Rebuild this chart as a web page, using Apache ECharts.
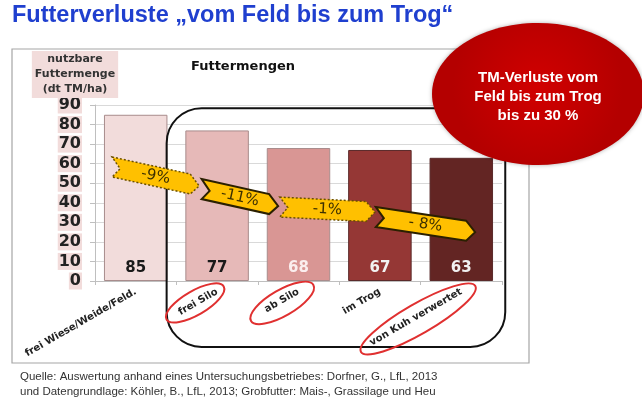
<!DOCTYPE html>
<html style="height: 100%">
<head>
    <meta charset="utf-8">
    <title>Futterverluste</title>
    <script type="text/javascript" src="https://cdn.jsdelivr.net/npm/echarts@6/dist/echarts.min.js"></script>
</head>
<body style="width: 100%;margin: 0;height: 100%;background: #fff">
<div id="container" style="width: 642px;height: 409px"></div>

<script type="application/javascript">

    // data
    var categories = ['frei Wiese/Weide/Feld.', 'frei Silo', 'ab Silo', 'im Trog', 'von Kuh verwertet'];
    var values = [85, 77, 68, 67, 63];
    var barColors = ['#f2dcdb', '#e6b9b8', '#d99694', '#953735', '#632523'];
    var labelColors = ['#1a1a1a', '#1a1a1a', '#fbeeee', '#f2f2f2', '#f2f2f2'];
    var yTicks = [0, 90, 10];
    var lossLabels = ['-9%', '-11%', '-1%', '- 8%'];

    // arrow layout: [category pos, value] of tail and tip
    var arrowLayout = [
        [[-0.29, 58.3], [0.78, 48.6]],
        [[0.81, 47.0], [1.75, 38.3]],
        [[1.77, 37.8], [2.94, 35.3]],
        [[2.95, 32.7], [4.17, 25.0]]
    ];
    var circled = [[0.73, -11.2, 33, 12], [1.80, -11.2, 36, 13], [3.47, -19.4, 66, 15]];

    var dom = document.getElementById("container");
    var myChart = echarts.init(dom);

    var barData = [];
    for (var i = 0; i < values.length; i++) {
        barData.push({
            value: values[i],
            itemStyle: {color: barColors[i], borderColor: i < 3 ? '#a88c8c' : '#5a2a2a', borderWidth: 1},
            label: {color: labelColors[i]}
        });
    }

    var font = '"DejaVu Sans", Verdana, sans-serif';

    option = {
        animation: false,
        grid: {left: 95, right: 140, top: 105, bottom: 128},
        xAxis: {
            type: 'category',
            data: categories,
            axisLine: {lineStyle: {color: '#bfbfbf'}},
            axisTick: {show: true, length: 4, lineStyle: {color: '#bfbfbf'}},
            axisLabel: {
                rotate: 30, margin: 10, interval: 0,
                fontFamily: font, fontWeight: 'bold', fontSize: 10, color: '#222'
            }
        },
        yAxis: {
            type: 'value',
            min: yTicks[0], max: yTicks[1], interval: yTicks[2],
            axisLine: {show: true, lineStyle: {color: '#bfbfbf'}},
            axisTick: {show: true, length: 5, lineStyle: {color: '#bfbfbf'}},
            splitLine: {lineStyle: {color: '#d9d9d9'}},
            axisLabel: {
                margin: 13, fontFamily: font, fontWeight: 'bold', fontSize: 16, color: '#222',
                backgroundColor: '#f2dcdb', padding: [0, 1, 0, 1], lineHeight: 17
            }
        },
        series: [
            {
                type: 'bar',
                data: barData,
                barCategoryGap: '22%',
                label: {
                    show: true, position: 'insideBottom', distance: 5,
                    fontFamily: font, fontWeight: 'bold', fontSize: 15
                }
            }
        ]
    };

    myChart.setOption(option);

    function px(p) {
        var c0 = myChart.convertToPixel({xAxisIndex: 0}, 0);
        var c1 = myChart.convertToPixel({xAxisIndex: 0}, 1);
        return [c0 + p[0] * (c1 - c0), myChart.convertToPixel({yAxisIndex: 0}, p[1])];
    }

    var g = [];
    // outer chart frame
    g.push({type: 'rect', z: -10, shape: {x: 12, y: 49, width: 517, height: 314},
        style: {fill: '#fff', stroke: '#a6a6a6', lineWidth: 1.2}});
    // title
    g.push({type: 'text', x: 12, y: 4, z: 10, style: {text: 'Futterverluste \u201Evom Feld bis zum Trog\u201C',
        font: 'bold 23.5px "Liberation Sans", Arial, sans-serif', fill: '#1f3fcf'}});
    // y axis title box
    g.push({type: 'text', x: 75, y: 51, z: 10, style: {text: 'nutzbare\nFuttermenge\n(dt TM/ha)',
        font: 'bold 11px ' + font, fill: '#333', align: 'center', lineHeight: 15,
        backgroundColor: '#f2dcdb', padding: [1, 3, 1, 3]}});
    g.push({type: 'text', x: 243, y: 60, z: 10, style: {text: 'Futtermengen',
        font: 'bold 13px ' + font, fill: '#111', align: 'center'}});

    // rounded box around the silo/trog part
    var b0 = px([0.38, 88.4]), b1 = px([4.54, -33.7]);
    g.push({type: 'rect', z: 20, shape: {x: b0[0], y: b0[1], width: b1[0] - b0[0], height: b1[1] - b0[1], r: 35},
        style: {fill: 'none', stroke: '#111', lineWidth: 2}});

    // loss arrows
    for (var a = 0; a < arrowLayout.length; a++) {
        var L = px(arrowLayout[a][0]), T = px(arrowLayout[a][1]);
        var s = (T[1] - L[1]) / (T[0] - L[0]);
        var h = 10, k = 9, n = 8;
        var yk = L[1] + s * (T[0] - k - L[0]);
        var pts = [[L[0], L[1] - h], [T[0] - k, yk - h], [T[0], T[1]], [T[0] - k, yk + h],
            [L[0], L[1] + h], [L[0] + n, L[1] + s * n]];
        var dotted = (a % 2 === 0);
        g.push({type: 'polygon', z: 30, shape: {points: pts},
            style: {fill: '#ffc000', stroke: dotted ? '#6b5000' : '#2b2000', lineWidth: dotted ? 1.5 : 2,
                lineDash: dotted ? [2, 2] : null}});
        g.push({type: 'text', z: 31, x: (L[0] + T[0]) / 2, y: (L[1] + T[1]) / 2,
            rotation: -Math.atan(s),
            style: {text: lossLabels[a], font: '15px ' + font, fill: '#3d3000',
                align: 'center', verticalAlign: 'middle'}});
    }

    // red rings round some labels
    for (var e = 0; e < circled.length; e++) {
        var c = px(circled[e]);
        g.push({type: 'ellipse', z: 25, x: c[0], y: c[1], rotation: Math.PI / 6,
            shape: {cx: 0, cy: 0, rx: circled[e][2], ry: circled[e][3]},
            style: {fill: 'none', stroke: '#e03030', lineWidth: 2}});
    }

    // red bubble
    g.push({type: 'ellipse', z: 40, shape: {cx: 538, cy: 94, rx: 106, ry: 71},
        style: {fill: {type: 'radial', x: 0.5, y: 0.45, r: 0.6,
            colorStops: [{offset: 0, color: '#d10000'}, {offset: 1, color: '#b40000'}]},
            shadowBlur: 4, shadowColor: 'rgba(0,0,0,0.3)'}});
    g.push({type: 'text', z: 41, x: 538, y: 68, style: {text: 'TM-Verluste vom\nFeld bis zum Trog\nbis zu 30 %',
        font: 'bold 15px "Liberation Sans", Arial, sans-serif', fill: '#fff', align: 'center', lineHeight: 19}});

    // source note
    g.push({type: 'text', x: 20, y: 369, style: {text: 'Quelle: Auswertung anhand eines Untersuchungsbetriebes: Dorfner, G., LfL, 2013\nund Datengrundlage: K\u00f6hler, B., LfL, 2013; Grobfutter: Mais-, Grassilage und Heu',
        font: '11.5px "Liberation Sans", Arial, sans-serif', fill: '#333', lineHeight: 15}});

    myChart.setOption({graphic: g});
</script>

</body>
</html>
